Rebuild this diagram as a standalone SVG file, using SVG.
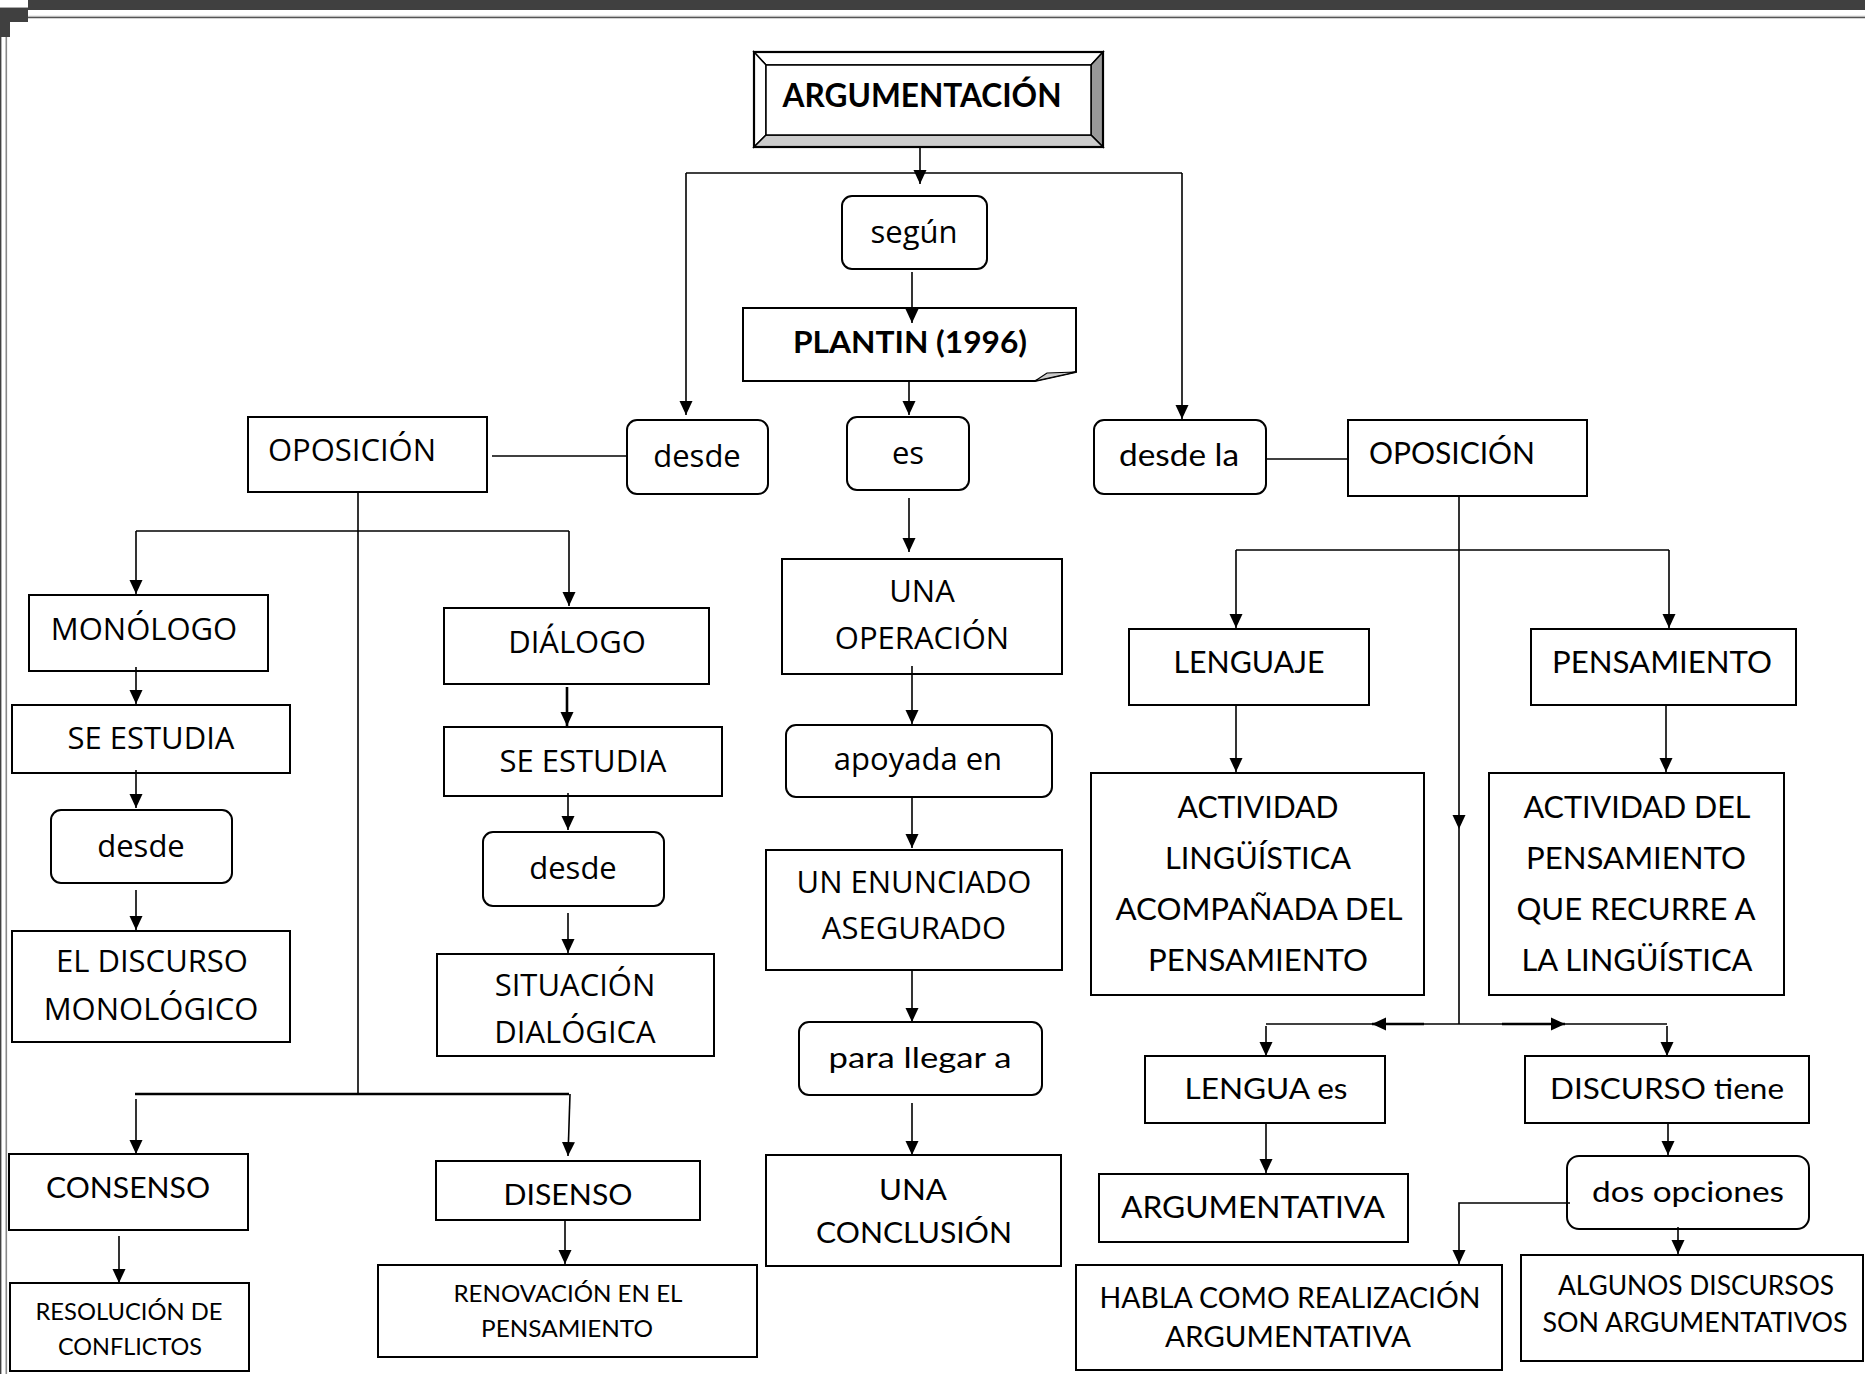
<svg xmlns="http://www.w3.org/2000/svg" width="1865" height="1374" viewBox="0 0 1865 1374">
  <style>
    .box { fill: #fff; stroke: #000; stroke-width: 2; }
    .c { fill: none; stroke: #000; stroke-width: 1.6; }
    .ca { marker-end: url(#ah); }
    .thick { stroke-width: 2.6; }
    .os { font-family: "Open Sans", "DejaVu Sans", sans-serif; font-size: 31px; fill: #000; text-anchor: middle; }
    .lt { font-family: Lato, "Liberation Sans", sans-serif; fill: #000; text-anchor: middle; }
    .b { font-weight: bold; }
  </style>
  <defs>
    <marker id="ah" viewBox="0 0 14 14" markerWidth="14" markerHeight="14" refX="14" refY="7" orient="auto" markerUnits="userSpaceOnUse">
      <path d="M0,0.5 L14,7 L0,13.5 Z" fill="#000"/>
    </marker>
  </defs>

  <rect x="0" y="0" width="1865" height="1374" fill="#fff"/>

  <!-- page frame -->
  <g id="page-frame">
    <rect x="28" y="0" width="1837" height="10" fill="#404040"/>
    <rect x="0" y="8" width="28" height="14" fill="#404040"/>
    <rect x="0" y="22" width="10" height="15" fill="#404040"/>
    <line x1="0" y1="7.5" x2="28" y2="7.5" stroke="#aaa" stroke-width="1"/>
    <line x1="28" y1="16.3" x2="1865" y2="16.3" stroke="#aaa" stroke-width="1"/>
    <line x1="28" y1="17.6" x2="1865" y2="17.6" stroke="#555" stroke-width="1.4"/>
    <line x1="0.7" y1="37" x2="0.7" y2="1374" stroke="#404040" stroke-width="1.4"/>
    <line x1="6.3" y1="37" x2="6.3" y2="1374" stroke="#888" stroke-width="1.6"/>
  </g>

  <!-- title with bevelled frame -->
  <g id="argumentacion">
    <polygon points="754,52 1103,52 1091,65 766,65" fill="#fff" stroke="#000" stroke-width="1.5"/>
    <polygon points="754,52 766,65 766,135 754,147" fill="#fff" stroke="#000" stroke-width="1.5"/>
    <polygon points="1103,52 1103,147 1091,135 1091,65" fill="#999" stroke="#000" stroke-width="1.5"/>
    <polygon points="754,147 1103,147 1091,135 766,135" fill="#ccc" stroke="#000" stroke-width="1.5"/>
    <rect x="766" y="65" width="325" height="70" fill="#fff" stroke="#000" stroke-width="1.5"/>
    <rect x="754" y="52" width="349" height="95" fill="none" stroke="#000" stroke-width="2.2"/>
    <text class="lt b" x="922" y="107" font-size="32" textLength="279" lengthAdjust="spacingAndGlyphs">ARGUMENTACIÓN</text>
  </g>

  <g id="segun">
    <rect class="box" x="842" y="196" width="145" height="73" rx="10"/>
    <text class="os" x="914" y="243">según</text>
  </g>

  <g id="plantin">
    <path class="box" d="M743,308 H1076 V372 L1035,381 H743 Z"/>
    <path d="M1035,381 L1076,372 L1047,373 Z" fill="#ccc" stroke="#000" stroke-width="1.2"/>
    <text class="lt b" x="910" y="353" font-size="30" textLength="234" lengthAdjust="spacingAndGlyphs">PLANTIN (1996)</text>
  </g>

  <g id="desde-top">
    <rect class="box" x="627" y="420" width="141" height="74" rx="10"/>
    <text class="os" x="697" y="467">desde</text>
  </g>

  <g id="es">
    <rect class="box" x="847" y="417" width="122" height="73" rx="10"/>
    <text class="os" x="908" y="464">es</text>
  </g>

  <g id="desde-la">
    <rect class="box" x="1094" y="420" width="172" height="74" rx="10"/>
    <text class="lt" x="1179" y="466" font-size="31" textLength="120" lengthAdjust="spacingAndGlyphs">desde la</text>
  </g>

  <g id="oposicion-izq">
    <rect class="box" x="248" y="417" width="239" height="75"/>
    <text class="os" x="352" y="461">OPOSICIÓN</text>
  </g>

  <g id="oposicion-der">
    <rect class="box" x="1348" y="420" width="239" height="76"/>
    <text class="lt" x="1452" y="464" font-size="30.5" textLength="166" lengthAdjust="spacingAndGlyphs">OPOSICIÓN</text>
  </g>

  <g id="monologo">
    <rect class="box" x="29" y="595" width="239" height="76"/>
    <text class="os" x="144" y="640">MONÓLOGO</text>
  </g>

  <g id="se-estudia-mono">
    <rect class="box" x="12" y="705" width="278" height="68"/>
    <text class="os" x="151" y="749">SE ESTUDIA</text>
  </g>

  <g id="desde-mono">
    <rect class="box" x="51" y="810" width="181" height="73" rx="10"/>
    <text class="os" x="141" y="857">desde</text>
  </g>

  <g id="discurso-monologico">
    <rect class="box" x="12" y="931" width="278" height="111"/>
    <text class="os" x="152" y="972" font-size="28.5">EL DISCURSO</text>
    <text class="os" x="151" y="1020" font-size="28.5">MONOLÓGICO</text>
  </g>

  <g id="dialogo">
    <rect class="box" x="444" y="608" width="265" height="76"/>
    <text class="os" x="577" y="653">DIÁLOGO</text>
  </g>

  <g id="se-estudia-dia">
    <rect class="box" x="444" y="727" width="278" height="69"/>
    <text class="os" x="583" y="772">SE ESTUDIA</text>
  </g>

  <g id="desde-dia">
    <rect class="box" x="483" y="832" width="181" height="74" rx="10"/>
    <text class="os" x="573" y="879">desde</text>
  </g>

  <g id="situacion-dialogica">
    <rect class="box" x="437" y="954" width="277" height="102"/>
    <text class="os" x="575" y="996" font-size="29">SITUACIÓN</text>
    <text class="os" x="575" y="1043" font-size="29">DIALÓGICA</text>
  </g>

  <g id="una-operacion">
    <rect class="box" x="782" y="559" width="280" height="115"/>
    <text class="os" x="922" y="602">UNA</text>
    <text class="os" x="922" y="649">OPERACIÓN</text>
  </g>

  <g id="apoyada-en">
    <rect class="box" x="786" y="725" width="266" height="72" rx="10"/>
    <text class="os" x="918" y="770">apoyada en</text>
  </g>

  <g id="un-enunciado">
    <rect class="box" x="766" y="850" width="296" height="120"/>
    <text class="os" x="914" y="893">UN ENUNCIADO</text>
    <text class="os" x="914" y="939">ASEGURADO</text>
  </g>

  <g id="para-llegar">
    <rect class="box" x="799" y="1022" width="243" height="73" rx="10"/>
    <text class="lt" x="920" y="1068" font-size="29" textLength="183" lengthAdjust="spacingAndGlyphs">para llegar a</text>
  </g>

  <g id="una-conclusion">
    <rect class="box" x="766" y="1155" width="295" height="111"/>
    <text class="lt" x="913" y="1200" font-size="29" textLength="68" lengthAdjust="spacingAndGlyphs">UNA</text>
    <text class="lt" x="914" y="1243" font-size="29" textLength="196" lengthAdjust="spacingAndGlyphs">CONCLUSIÓN</text>
  </g>

  <g id="consenso">
    <rect class="box" x="9" y="1154" width="239" height="76"/>
    <text class="lt" x="128" y="1198" font-size="28" textLength="164" lengthAdjust="spacingAndGlyphs">CONSENSO</text>
  </g>

  <g id="disenso">
    <rect class="box" x="436" y="1161" width="264" height="59"/>
    <text class="lt" x="568" y="1205" font-size="29" textLength="129" lengthAdjust="spacingAndGlyphs">DISENSO</text>
  </g>

  <g id="resolucion">
    <rect class="box" x="10" y="1283" width="239" height="88"/>
    <text class="lt" x="129" y="1320" font-size="23" textLength="187" lengthAdjust="spacingAndGlyphs">RESOLUCIÓN DE</text>
    <text class="lt" x="130" y="1355" font-size="23" textLength="144" lengthAdjust="spacingAndGlyphs">CONFLICTOS</text>
  </g>

  <g id="renovacion">
    <rect class="box" x="378" y="1265" width="379" height="92"/>
    <text class="lt" x="568" y="1302" font-size="23" textLength="229" lengthAdjust="spacingAndGlyphs">RENOVACIÓN EN EL</text>
    <text class="lt" x="567" y="1337" font-size="23" textLength="172" lengthAdjust="spacingAndGlyphs">PENSAMIENTO</text>
  </g>

  <g id="lenguaje">
    <rect class="box" x="1129" y="629" width="240" height="76"/>
    <text class="lt" x="1249" y="673" font-size="30.5" textLength="151" lengthAdjust="spacingAndGlyphs">LENGUAJE</text>
  </g>

  <g id="pensamiento">
    <rect class="box" x="1531" y="629" width="265" height="76"/>
    <text class="lt" x="1662" y="673" font-size="30.5" textLength="220" lengthAdjust="spacingAndGlyphs">PENSAMIENTO</text>
  </g>

  <g id="actividad-linguistica">
    <rect class="box" x="1091" y="773" width="333" height="222"/>
    <text class="lt" x="1258" y="818" font-size="30.5" textLength="161" lengthAdjust="spacingAndGlyphs">ACTIVIDAD</text>
    <text class="lt" x="1258" y="869" font-size="30.5" textLength="186" lengthAdjust="spacingAndGlyphs">LINGÜÍSTICA</text>
    <text class="lt" x="1259" y="920" font-size="30.5" textLength="287" lengthAdjust="spacingAndGlyphs">ACOMPAÑADA DEL</text>
    <text class="lt" x="1258" y="971" font-size="30.5" textLength="220" lengthAdjust="spacingAndGlyphs">PENSAMIENTO</text>
  </g>

  <g id="actividad-pensamiento">
    <rect class="box" x="1489" y="773" width="295" height="222"/>
    <text class="lt" x="1637" y="818" font-size="30.5" textLength="227" lengthAdjust="spacingAndGlyphs">ACTIVIDAD DEL</text>
    <text class="lt" x="1636" y="869" font-size="30.5" textLength="220" lengthAdjust="spacingAndGlyphs">PENSAMIENTO</text>
    <text class="lt" x="1636" y="920" font-size="30.5" textLength="239" lengthAdjust="spacingAndGlyphs">QUE RECURRE A</text>
    <text class="lt" x="1637" y="971" font-size="30.5" textLength="231" lengthAdjust="spacingAndGlyphs">LA LINGÜÍSTICA</text>
  </g>

  <g id="lengua-es">
    <rect class="box" x="1145" y="1056" width="240" height="67"/>
    <text class="lt" x="1266" y="1099" font-size="28" textLength="163" lengthAdjust="spacingAndGlyphs">LENGUA es</text>
  </g>

  <g id="discurso-tiene">
    <rect class="box" x="1525" y="1056" width="284" height="67"/>
    <text class="lt" x="1667" y="1099" font-size="28" textLength="234" lengthAdjust="spacingAndGlyphs">DISCURSO tiene</text>
  </g>

  <g id="argumentativa">
    <rect class="box" x="1099" y="1174" width="309" height="68"/>
    <text class="lt" x="1253" y="1218" font-size="30" textLength="264" lengthAdjust="spacingAndGlyphs">ARGUMENTATIVA</text>
  </g>

  <g id="dos-opciones">
    <rect class="box" x="1567" y="1156" width="242" height="73" rx="12"/>
    <text class="lt" x="1688" y="1202" font-size="28" textLength="192" lengthAdjust="spacingAndGlyphs">dos opciones</text>
  </g>

  <g id="habla">
    <rect class="box" x="1076" y="1265" width="426" height="105"/>
    <text class="lt" x="1290" y="1308" font-size="28" textLength="381" lengthAdjust="spacingAndGlyphs">HABLA COMO REALIZACIÓN</text>
    <text class="lt" x="1288" y="1347" font-size="28" textLength="246" lengthAdjust="spacingAndGlyphs">ARGUMENTATIVA</text>
  </g>

  <g id="algunos-discursos">
    <rect class="box" x="1521" y="1255" width="342" height="106"/>
    <text class="lt" x="1696" y="1295" font-size="26" textLength="276" lengthAdjust="spacingAndGlyphs">ALGUNOS DISCURSOS</text>
    <text class="lt" x="1695" y="1332" font-size="26" textLength="305" lengthAdjust="spacingAndGlyphs">SON ARGUMENTATIVOS</text>
  </g>

  <!-- connectors, drawn over the boxes so heads that overlap an edge stay visible -->
  <g id="connectors">
    <path class="c ca" d="M920,147 V184"/>
    <path class="c" d="M686,173 H1182"/>
    <path class="c ca" d="M686,173 V415"/>
    <path class="c ca" d="M1182,173 V419"/>
    <path class="c ca" d="M912,272 V323"/>
    <path class="c ca" d="M909,381 V415"/>
    <path class="c" d="M492,456 H627"/>
    <path class="c" d="M1266,459 H1348"/>
    <path class="c ca" d="M909,498 V552"/>
    <path class="c ca" d="M912,666 V724"/>
    <path class="c ca" d="M912,797 V848"/>
    <path class="c ca" d="M912,970 V1022"/>
    <path class="c ca" d="M912,1103 V1155"/>

    <!-- left branch -->
    <path class="c" d="M358,492 V1094"/>
    <path class="c" d="M136,531 H569"/>
    <path class="c ca" d="M136,531 V594"/>
    <path class="c ca" d="M569,531 V606"/>
    <path class="c ca" d="M136,667 V704"/>
    <path class="c ca" d="M136,770 V808"/>
    <path class="c ca" d="M136,890 V930"/>
    <path class="c ca thick" d="M567,687 V726"/>
    <path class="c ca" d="M568,793 V830"/>
    <path class="c ca" d="M568,913 V953"/>
    <path class="c thick" d="M135,1094 H569"/>
    <path class="c ca" d="M136,1099 V1154"/>
    <path class="c ca" d="M570,1094 L568,1156"/>
    <path class="c ca" d="M119,1236 V1283"/>
    <path class="c ca" d="M565,1220 V1264"/>

    <!-- right branch -->
    <path class="c ca" d="M1459,496 V829"/>
    <path class="c" d="M1459,829 V1024"/>
    <path class="c" d="M1236,550 H1669"/>
    <path class="c ca" d="M1236,550 V628"/>
    <path class="c ca" d="M1669,550 V628"/>
    <path class="c ca" d="M1236,705 V772"/>
    <path class="c ca" d="M1666,705 V772"/>
    <path class="c" d="M1266,1024 H1667"/>
    <path class="c ca thick" d="M1424,1024 H1372"/>
    <path class="c ca thick" d="M1502,1024 H1565"/>
    <path class="c ca" d="M1266,1026 V1056"/>
    <path class="c ca" d="M1667,1026 V1056"/>
    <path class="c ca" d="M1266,1123 V1173"/>
    <path class="c ca" d="M1668,1123 V1155"/>
    <path class="c ca" d="M1570,1203 H1459 V1264"/>
    <path class="c ca" d="M1678,1227 V1254"/>
  </g>
</svg>
